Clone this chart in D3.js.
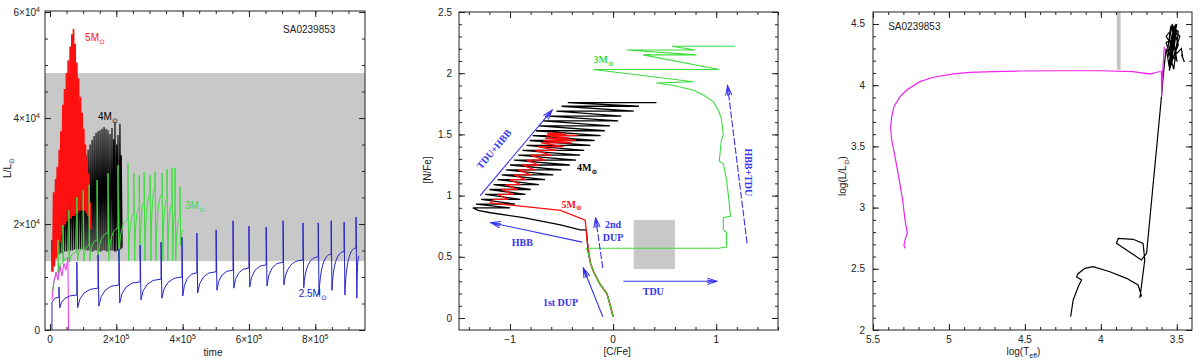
<!DOCTYPE html>
<html>
<head>
<meta charset="utf-8">
<script src="https://cdn.jsdelivr.net/npm/d3@7"></script>
<style>
  body { margin: 0; background: #fff; }
  svg text { font-family: "Liberation Sans", Arial, sans-serif; font-size: 10px; }
  .ann { font-family: "Liberation Serif", "DejaVu Serif", serif; font-weight: bold; }
</style>
</head>
<body>
<svg id="chart" width="1200" height="363"></svg>
<script>
// ---------- left panel: L vs time (t in 1e5 yr, L in 1e4 Lsun) ----------
var band1 = [1.30, 4.85];

var blueStart = [[0.06, 0], [0.06, 0.52], [0.15, 0.60]];
var blueT    = [0.27, 0.81, 1.45, 2.08, 2.72, 3.35, 3.98, 4.43, 5.01, 5.52, 6.00, 6.52, 7.03, 7.63, 8.09, 8.48, 8.87, 9.23];
var blueBase = [0.62, 0.66, 0.79, 0.85, 0.91, 0.96, 1.00, 1.08, 1.10, 1.13, 1.17, 1.23, 1.28, 1.32, 1.38, 1.43, 1.48, 1.55];
var bluePeak = [0.81, 1.28, 1.42, 1.53, 1.60, 1.66, 1.75, 1.83, 1.89, 2.06, 1.96, 1.94, 2.06, 2.02, 2.02, 2.06, 2.04, 2.13];
var blueDip  = [0.42, 0.42, 0.45, 0.51, 0.57, 0.60, 0.64, 0.70, 0.75, 0.79, 0.81, 0.83, 0.85, 0.80, 0.66, 0.75, 0.66, 0.60];
var blueEnd  = [9.32, 1.40];

var greenStart = [[0.06, 0.70], [0.15, 1.00]];
var greenT    = [0.24, 0.39, 0.57, 0.81, 1.00, 1.18, 1.42, 1.75, 2.05, 2.35, 2.53, 2.69, 2.84, 3.02, 3.17, 3.38, 3.53, 3.68, 3.77, 3.92];
var greenBase = [1.13, 1.28, 1.36, 1.47, 1.55, 1.60, 1.70, 1.83, 1.92, 2.08, 2.19, 2.30, 2.42, 2.55, 2.68, 2.55, 2.45, 2.36, 2.23, 2.11];
var greenTop  = [1.70, 1.98, 2.26, 2.51, 2.64, 2.74, 2.83, 2.96, 3.11, 3.15, 2.96, 2.92, 2.98, 2.92, 2.98, 2.96, 3.04, 3.06, 3.06, 2.70];
var greenLow  = [1.04, 1.28, 1.28, 1.30, 1.30, 1.30, 1.30, 1.30, 1.30, 1.31, 1.31, 1.31, 1.31, 1.31, 1.31, 1.31, 1.31, 1.31, 1.31, 1.60];
var greenEnd  = [4.02, 1.89];

var redT   = [0.06, 0.11, 0.17, 0.22, 0.28, 0.33, 0.39, 0.44, 0.50, 0.55, 0.61, 0.66, 0.71, 0.76, 0.81, 0.86, 0.92, 0.97, 1.02, 1.07, 1.12, 1.17, 1.21];
var redTop = [1.50, 2.60, 2.85, 3.08, 3.40, 3.75, 4.25, 4.55, 4.85, 5.09, 5.35, 5.58, 5.68, 5.40, 5.05, 4.75, 4.40, 4.10, 3.80, 3.50, 3.25, 2.95, 2.40];
var redLow = [1.10, 1.20, 1.35, 1.50, 1.65, 1.80, 1.95, 2.00, 2.05, 2.10, 2.10, 2.15, 2.15, 2.20, 2.20, 2.25, 2.25, 2.25, 2.25, 2.20, 2.15, 2.05, 1.90];

var blackT   = [0.06, 0.12, 0.18, 0.24, 0.30, 0.36, 0.42, 0.48, 0.54, 0.60, 0.66, 0.72, 0.78, 0.84, 0.90, 0.96, 1.03, 1.09, 1.15, 1.21, 1.27, 1.33, 1.39, 1.45, 1.51, 1.57, 1.63, 1.69, 1.75, 1.81, 1.87, 1.92, 1.96, 2.01, 2.05, 2.11, 2.15];
var blackTop = [1.70, 1.95, 2.17, 2.30, 2.45, 2.55, 2.64, 2.74, 2.83, 2.88, 2.92, 2.97, 3.02, 3.06, 3.11, 3.16, 3.21, 3.30, 3.40, 3.50, 3.59, 3.66, 3.72, 3.75, 3.77, 3.80, 3.83, 3.80, 3.77, 3.70, 3.81, 3.60, 3.91, 3.50, 3.68, 3.89, 3.30];
var blackLow = [1.28, 1.35, 1.40, 1.42, 1.45, 1.45, 1.48, 1.48, 1.50, 1.50, 1.50, 1.52, 1.52, 1.52, 1.52, 1.52, 1.52, 1.50, 1.50, 1.48, 1.48, 1.50, 1.50, 1.48, 1.48, 1.50, 1.50, 1.48, 1.48, 1.50, 1.50, 1.48, 1.48, 1.50, 1.50, 1.52, 1.55];

var magT1 = [0.06, 0.12, 0.18, 0.24, 0.30, 0.36, 0.42, 0.48, 0.54, 0.56];
var magL1 = [0.57, 0.91, 1.09, 0.94, 1.21, 1.02, 1.26, 1.13, 1.36, 0.00];

// ---------- middle panel: [N/Fe] vs [C/Fe] ----------
var boxCN = [0.2, 0.6, 0.4, 0.8];   // C0, C1, N0, N1

var green2C = [0.00, -0.03, -0.06, -0.13, -0.19, -0.22, -0.24, -0.26, 1.02, 1.10, 1.10, 1.07, 1.07, 1.14, 1.12, 1.10, 1.07, 1.03, 1.05, 1.07, 1.05, 1.02, 0.97, 0.88, 0.78, 0.59, 0.42, 0.78, -0.19, 1.03, 0.29, 0.81, 0.13, 0.80, 0.57, 1.18];
var green2N = [0.01, 0.11, 0.20, 0.28, 0.38, 0.45, 0.53, 0.57, 0.57, 0.58, 0.70, 0.72, 0.82, 0.83, 0.99, 1.13, 1.26, 1.28, 1.45, 1.50, 1.63, 1.70, 1.77, 1.82, 1.86, 1.90, 1.92, 1.93, 2.03, 2.03, 2.15, 2.15, 2.19, 2.19, 2.22, 2.22];

var red2BaseC = [0.00, -0.03, -0.06, -0.13, -0.19, -0.22, -0.25, -0.27, -0.51, -0.85, -1.19];
var red2BaseN = [0.01, 0.11, 0.20, 0.28, 0.38, 0.45, 0.62, 0.80, 0.88, 0.91, 0.94];
var red2N = [0.97, 1.01, 1.05, 1.09, 1.13, 1.17, 1.21, 1.25, 1.29, 1.33, 1.37, 1.40, 1.43, 1.45, 1.47, 1.49, 1.50, 1.51];
var red2L = [-1.16, -1.12, -1.08, -1.04, -1.00, -0.96, -0.92, -0.88, -0.84, -0.80, -0.76, -0.73, -0.70, -0.68, -0.66, -0.65, -0.64, -0.64];
var red2R = [-1.02, -0.97, -0.93, -0.90, -0.85, -0.80, -0.76, -0.72, -0.66, -0.60, -0.55, -0.48, -0.40, -0.36, -0.42, -0.35, -0.45, -0.50];

var black2BaseC = [0.00, -0.03, -0.06, -0.13, -0.19, -0.22, -0.24, -0.26, -0.32, -0.51, -0.87, -1.19, -1.31];
var black2BaseN = [0.01, 0.11, 0.20, 0.28, 0.38, 0.45, 0.53, 0.72, 0.72, 0.76, 0.82, 0.86, 0.88];
var black2N = [0.90, 0.93, 0.97, 1.01, 1.05, 1.09, 1.13, 1.17, 1.21, 1.25, 1.29, 1.33, 1.37, 1.41, 1.45, 1.49, 1.53, 1.57, 1.61, 1.65, 1.69, 1.73, 1.76];
var black2L = [-1.36, -1.33, -1.28, -1.24, -1.20, -1.16, -1.12, -1.08, -1.04, -1.00, -0.96, -0.92, -0.88, -0.84, -0.81, -0.78, -0.75, -0.72, -0.68, -0.62, -0.55, -0.50, -0.44];
var black2R = [-1.00, -0.95, -0.90, -0.85, -0.80, -0.72, -0.66, -0.58, -0.50, -0.42, -0.36, -0.32, -0.28, -0.22, -0.18, -0.12, -0.08, -0.03, 0.05, 0.08, 0.20, 0.25, 0.42];

// arrows: [C0, N0, C1, N1]
var arrows = [
  [-1.29, 1.00, -0.59, 1.70],
  [-0.30, 0.62, -1.19, 0.78],
  [-0.10, 0.01, -0.29, 0.41],
  [-0.10, 0.41, -0.17, 0.82],
  [0.10, 0.30, 1.01, 0.30],
  [1.30, 0.61, 1.11, 1.90]
];
var arrowDash = [false, false, false, true, false, true];
var annText = ["TDU+HBB", "HBB", "1st DUP", "2nd", "DUP", "TDU", "HBB+TDU"];
var annC    = [-1.155, -0.88, -0.51, 0.00, 0.00, 0.39, 1.31];
var annN    = [1.38, 0.59, 0.10, 0.735, 0.63, 0.19, 1.19];
var annRot  = [-50, 0, 0, 0, 0, 0, 90];

// ---------- right panel: HR diagram ----------
var bar3 = [3.895, 3.87, 4.125];
var magT3 = [5.289, 5.296, 5.283, 5.274, 5.289, 5.305, 5.327, 5.355, 5.377, 5.384, 5.377, 5.362, 5.322, 5.278, 5.191, 5.103, 4.971, 4.862, 4.709, 4.533, 4.250, 4.007, 3.787, 3.700, 3.660, 3.760, 3.670, 3.620, 3.601, 3.600, 3.596, 3.582];
var magL3 = [2.667, 2.694, 2.762, 2.790, 2.899, 3.062, 3.225, 3.416, 3.552, 3.661, 3.743, 3.824, 3.906, 3.961, 4.029, 4.065, 4.092, 4.105, 4.111, 4.116, 4.118, 4.118, 4.111, 4.095, 4.090, 4.105, 4.093, 4.110, 4.110, 3.906, 4.060, 4.315];
var blkT3 = [4.199, 4.182, 4.149, 4.127, 4.160, 4.150, 4.105, 4.051, 3.941, 3.831, 3.755, 3.733, 3.742, 3.711, 3.722, 3.787, 3.886, 3.897, 3.831, 3.733, 3.699, 3.601, 3.590,
             3.57, 3.55, 3.53, 3.56, 3.52, 3.55, 3.50, 3.54, 3.51, 3.57, 3.52, 3.49, 3.54, 3.56, 3.50, 3.53, 3.48, 3.55, 3.51, 3.57, 3.52, 3.50, 3.54, 3.49, 3.53, 3.55, 3.50, 3.47, 3.46, 3.45, 3.47];
var blkL3 = [2.109, 2.245, 2.354, 2.408, 2.435, 2.460, 2.504, 2.517, 2.476, 2.422, 2.368, 2.280, 2.270, 2.572, 2.708, 2.741, 2.749, 2.708, 2.654, 2.572, 2.626, 3.906, 4.072,
             4.30, 4.15, 4.42, 4.22, 4.47, 4.18, 4.50, 4.25, 4.38, 4.35, 4.13, 4.44, 4.48, 4.28, 4.20, 4.46, 4.40, 4.12, 4.49, 4.40, 4.30, 4.45, 4.17, 4.33, 4.50, 4.36, 4.26, 4.30, 4.22, 4.19, 4.25];

var svg = d3.select("#chart");
var defs = svg.append("defs");

function panel(id, box, xDom, yDom) {
    var w = box[2] - box[0], h = box[3] - box[1];
    var g = svg.append("g").attr("transform", "translate(" + box[0] + "," + box[1] + ")");
    defs.append("clipPath").attr("id", id).append("rect").attr("width", w).attr("height", h);
    var x = d3.scaleLinear().domain(xDom).range([0, w]);
    var y = d3.scaleLinear().domain(yDom).range([h, 0]);
    var plot = g.append("g").attr("clip-path", "url(#" + id + ")");
    return { g: g, plot: plot, x: x, y: y, w: w, h: h };
}

function frame(p, xMajor, xMinor, yMajor, yMinor) {
    var g = p.g.append("g");
    function add(axis, tr, vals, size) {
        g.append("g").attr("transform", tr)
            .call(axis.tickValues(vals).tickSize(-size).tickFormat(""))
            .call(function (a) { a.select(".domain").remove(); a.selectAll("line").attr("stroke", "#222"); });
    }
    [[xMinor, 3], [xMajor, 6]].forEach(function (d) {
        add(d3.axisBottom(p.x), "translate(0," + p.h + ")", d[0], d[1]);
        add(d3.axisTop(p.x), "translate(0,0)", d[0], d[1]);
    });
    [[yMinor, 3], [yMajor, 6]].forEach(function (d) {
        add(d3.axisLeft(p.y), "translate(0,0)", d[0], d[1]);
        add(d3.axisRight(p.y), "translate(" + p.w + ",0)", d[0], d[1]);
    });
    g.append("rect").attr("width", p.w).attr("height", p.h)
        .attr("fill", "none").attr("stroke", "#222").attr("stroke-width", 1);
}

function labels(p, xVals, yVals, fmtX, fmtY, yGap) {
    p.g.selectAll(null).data(xVals).enter().append("text")
        .attr("x", function (d) { return p.x(d); }).attr("y", p.h + 13)
        .attr("text-anchor", "middle").attr("fill", "#222")
        .each(function (d) { fmtX(d3.select(this), d); });
    p.g.selectAll(null).data(yVals).enter().append("text")
        .attr("x", -yGap).attr("y", function (d) { return p.y(d); }).attr("dy", "0.35em")
        .attr("text-anchor", "end").attr("fill", "#222")
        .each(function (d) { fmtY(d3.select(this), d); });
}

function sup(exp) {
    return function (s, d) {
        if (d === 0) { s.text("0"); return; }
        s.text(d + "\u00d710");
        s.append("tspan").attr("dy", -4).attr("font-size", 7).text(exp);
    };
}
function plain(s, d) { s.text(String(d).replace("-", "\u2212")); }

function mLabel(g, x, y, pre, color, cls) {
    var t = g.append("text").attr("x", x).attr("y", y).attr("fill", color);
    if (cls) t.attr("class", cls);
    t.append("tspan").text(pre + "M");
    t.append("tspan").attr("dy", 2.5).attr("font-size", 7).text("\u2299");
    return t;
}

// ===== panel 1 =====
var p1 = panel("c1", [45, 11, 365, 330], [-0.15, 9.5], [0, 6.02]);
var x1 = p1.x, y1 = p1.y;

p1.plot.append("rect").attr("x", 0).attr("width", p1.w)
    .attr("y", y1(band1[1])).attr("height", y1(band1[0]) - y1(band1[1]))
    .attr("fill", "#c8c8c8");

function zigzag(T, top, low, w) {
    var p = d3.path();
    p.moveTo(x1(T[0]), y1(low[0]));
    T.forEach(function (t, i) {
        p.lineTo(x1(t), y1(top[i]));
        p.lineTo(x1(t) + w, y1(low[i]));
    });
    return p.toString();
}

function pulses(start, T, base, peak, dip, end) {
    var p = d3.path();
    p.moveTo(x1(start[0][0]), y1(start[0][1]));
    start.slice(1).forEach(function (d) { p.lineTo(x1(d[0]), y1(d[1])); });
    T.forEach(function (t, i) {
        var x0 = x1(t);
        p.lineTo(x0, y1(base[i]));
        p.lineTo(x0, y1(peak[i]));
        p.lineTo(x0 + 0.8, y1(dip[i]));
        var last = i === T.length - 1;
        var nx = last ? x1(end[0]) : x1(T[i + 1]);
        var ny = last ? y1(end[1]) : y1(base[i + 1]);
        p.quadraticCurveTo(x0 + 0.8 + (nx - x0) * 0.12, ny, nx, ny);
    });
    return p.toString();
}

p1.plot.append("path").attr("d", zigzag(blackT, blackTop, blackLow, 0.9))
    .attr("fill", "none").attr("stroke", "#000").attr("stroke-width", 1.1);
p1.plot.append("path").attr("d", zigzag(redT, redTop, redLow, 0.8))
    .attr("fill", "none").attr("stroke", "#ff1010").attr("stroke-width", 1.7);
p1.plot.append("path").attr("d", pulses(greenStart, greenT, greenBase, greenTop, greenLow, greenEnd))
    .attr("fill", "none").attr("stroke", "#3ddc3d").attr("stroke-width", 1);
p1.plot.append("path")
    .attr("d", d3.line().x(function (d, i) { return x1(magT1[i]); }).y(function (d) { return y1(d); })(magL1))
    .attr("fill", "none").attr("stroke", "#ee33ee").attr("stroke-width", 1);
p1.plot.append("path").attr("d", pulses(blueStart, blueT, blueBase, bluePeak, blueDip, blueEnd))
    .attr("fill", "none").attr("stroke", "#2424c8").attr("stroke-width", 1);

frame(p1, [0, 2, 4, 6, 8], d3.range(0, 9.5, 0.5), [0, 2, 4, 6], d3.range(0, 6.01, 0.5));
labels(p1, [0, 2, 4, 6, 8], [0, 2, 4, 6], sup("5"), sup("4"), 5);

mLabel(p1.g, x1(1.06), y1(5.45), "5", "#ff1010");
mLabel(p1.g, x1(1.45), y1(3.96), "4", "#000");
mLabel(p1.g, x1(4.07), y1(2.28), "3", "#3ddc3d");
mLabel(p1.g, x1(7.50), y1(0.62), "2.5", "#2424c8");
p1.g.append("text").attr("x", x1(7.03)).attr("y", y1(5.6)).attr("fill", "#222").text("SA0239853");
p1.g.append("text").attr("x", 168).attr("y", p1.h + 26).attr("text-anchor", "middle").attr("fill", "#222").text("time");
var yl1 = svg.append("text").attr("transform", "translate(11,168) rotate(-90)").attr("text-anchor", "middle").attr("fill", "#222");
yl1.append("tspan").text("L/L");
yl1.append("tspan").attr("dy", 2.5).attr("font-size", 7).text("\u2299");

// ===== panel 2 =====
var p2 = panel("c2", [459, 12, 778, 330], [-1.495, 1.60], [-0.098, 2.5]);
var x2 = p2.x, y2 = p2.y;
var line2 = d3.line().x(function (d) { return x2(d[0]); }).y(function (d) { return y2(d[1]); });

p2.plot.append("rect")
    .attr("x", x2(boxCN[0])).attr("width", x2(boxCN[1]) - x2(boxCN[0]))
    .attr("y", y2(boxCN[3])).attr("height", y2(boxCN[2]) - y2(boxCN[3]))
    .attr("fill", "#c8c8c8");

function track(baseC, baseN, N, L, R) {
    var pts = baseC.map(function (c, i) { return [c, baseN[i]]; });
    N.forEach(function (n, i) { pts.push([L[i], n]); pts.push([R[i], n]); });
    return pts;
}

p2.plot.append("path").attr("d", line2(track(black2BaseC, black2BaseN, black2N, black2L, black2R)))
    .attr("fill", "none").attr("stroke", "#000").attr("stroke-width", 1.3);
p2.plot.append("path").attr("d", line2(track(red2BaseC, red2BaseN, red2N, red2L, red2R)))
    .attr("fill", "none").attr("stroke", "#ff1010").attr("stroke-width", 1.3);
p2.plot.append("path").attr("d", line2(green2C.map(function (c, i) { return [c, green2N[i]]; })))
    .attr("fill", "none").attr("stroke", "#3ddc3d").attr("stroke-width", 1.1);

defs.append("marker").attr("id", "arr").attr("viewBox", "-11 -5 12 10")
    .attr("refX", 0).attr("refY", 0).attr("markerWidth", 12).attr("markerHeight", 10)
    .attr("markerUnits", "userSpaceOnUse").attr("orient", "auto")
    .append("path").attr("d", "M-10,-3.2L0,0L-10,3.2M-10,-1.2L-2,0L-10,1.2")
    .attr("fill", "none").attr("stroke", "#3434f0").attr("stroke-width", 1);

p2.g.selectAll(null).data(arrows).enter().append("line")
    .attr("x1", function (d) { return x2(d[0]); }).attr("y1", function (d) { return y2(d[1]); })
    .attr("x2", function (d) { return x2(d[2]); }).attr("y2", function (d) { return y2(d[3]); })
    .attr("stroke", "#3434f0").attr("stroke-width", 1.1)
    .attr("stroke-dasharray", function (d, i) { return arrowDash[i] ? "7,2" : null; })
    .attr("marker-end", "url(#arr)");

p2.g.selectAll(null).data(annText).enter().append("text")
    .attr("class", "ann").attr("fill", "#3434f0").attr("font-size", 10.5)
    .attr("text-anchor", "middle")
    .attr("transform", function (d, i) {
        return "translate(" + x2(annC[i]) + "," + y2(annN[i]) + ") rotate(" + annRot[i] + ")";
    })
    .attr("dy", function (d, i) { return annRot[i] ? "0.35em" : 0; })
    .text(function (d) { return d; });

mLabel(p2.g, x2(-0.50), y2(0.90), "5", "#ff1010", "ann");
mLabel(p2.g, x2(-0.35), y2(1.20), "4", "#000", "ann");
mLabel(p2.g, x2(-0.19), y2(2.08), "3", "#3ddc3d", "ann");

frame(p2, [-1, 0, 1], d3.range(-1.4, 1.61, 0.2), [0, 0.5, 1, 1.5, 2, 2.5], d3.range(0, 2.51, 0.1));
labels(p2, [-1, 0, 1], [0, 0.5, 1, 1.5, 2, 2.5], plain, plain, 7);
p2.g.append("text").attr("x", x2(0.04)).attr("y", p2.h + 25).attr("text-anchor", "middle")
    .attr("font-family", "Liberation Mono, monospace").attr("fill", "#222").text("[C/Fe]");
svg.append("text").attr("transform", "translate(431,170) rotate(-90)").attr("text-anchor", "middle")
    .attr("font-family", "Liberation Mono, monospace").attr("fill", "#222").text("[N/Fe]");

// ===== panel 3 =====
var p3 = panel("c3", [873, 12, 1192, 330], [5.5, 3.40], [2, 4.598]);
var x3 = p3.x, y3 = p3.y;
var line3 = d3.line().x(function (d) { return x3(d[0]); }).y(function (d) { return y3(d[1]); });

p3.plot.append("rect")
    .attr("x", x3(bar3[0])).attr("width", x3(bar3[1]) - x3(bar3[0]))
    .attr("y", 0).attr("height", y3(bar3[2]))
    .attr("fill", "#c4c4c4");
p3.plot.append("path").attr("d", line3(blkT3.map(function (t, i) { return [t, blkL3[i]]; })))
    .attr("fill", "none").attr("stroke", "#000").attr("stroke-width", 1.2);
p3.plot.append("path").attr("d", line3(magT3.map(function (t, i) { return [t, magL3[i]]; })))
    .attr("fill", "none").attr("stroke", "#ee22ee").attr("stroke-width", 1.2);

frame(p3, [5.5, 5, 4.5, 4, 3.5], d3.range(3.5, 5.51, 0.1), [2, 2.5, 3, 3.5, 4, 4.5], d3.range(2, 4.55, 0.1));
labels(p3, [5.5, 5, 4.5, 4, 3.5], [2, 2.5, 3, 3.5, 4, 4.5], plain, plain, 8);
p3.g.append("text").attr("x", x3(5.40)).attr("y", y3(4.45)).attr("fill", "#222").text("SA0239853");
var xl3 = p3.g.append("text").attr("x", x3(4.51)).attr("y", p3.h + 25).attr("text-anchor", "middle").attr("fill", "#222");
xl3.append("tspan").text("log(T");
xl3.append("tspan").attr("dy", 2.5).attr("font-size", 7).text("eff");
xl3.append("tspan").attr("dy", -2.5).text(")");
var yl3 = svg.append("text").attr("transform", "translate(846,176) rotate(-90)").attr("text-anchor", "middle").attr("fill", "#222");
yl3.append("tspan").text("log(L/L");
yl3.append("tspan").attr("dy", 2.5).attr("font-size", 7).text("\u2299");
yl3.append("tspan").attr("dy", -2.5).text(")");
</script>
</body>
</html>
